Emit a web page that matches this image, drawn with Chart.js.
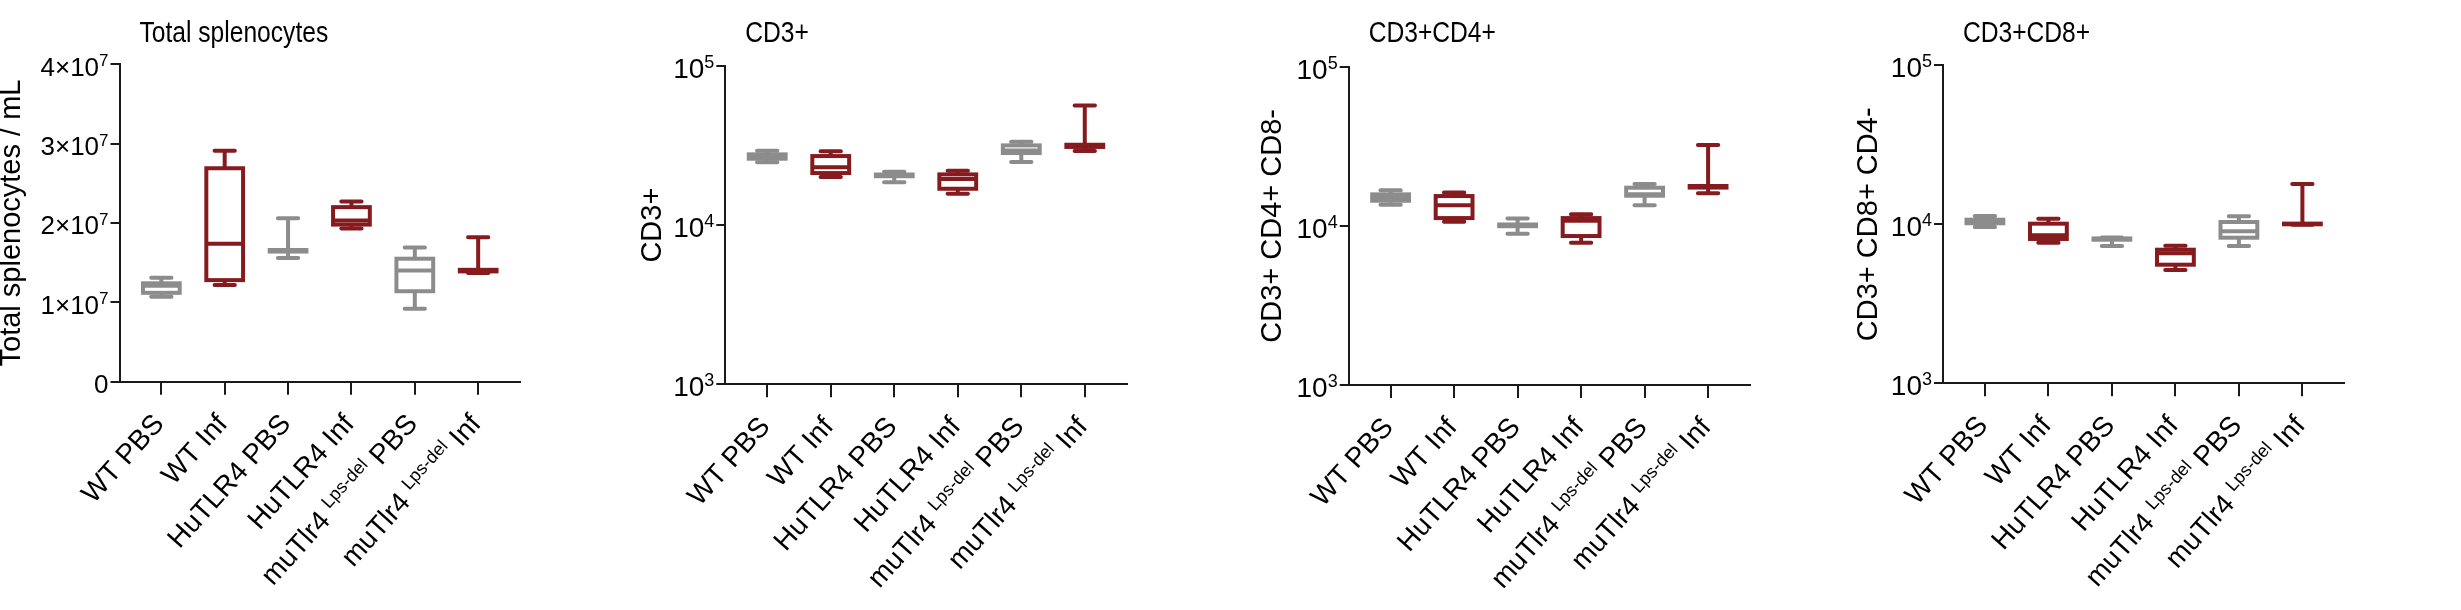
<!DOCTYPE html>
<html>
<head>
<meta charset="utf-8">
<title>Splenocyte counts</title>
<script src="https://cdn.jsdelivr.net/npm/chart.js@4.4.1/dist/chart.umd.min.js"></script>
<style>
  html, body { margin: 0; padding: 0; background: #fff; }
  body { position: relative; width: 2461px; height: 610px; overflow: hidden; }
  canvas { position: absolute; top: 0; }
</style>
</head>
<body>
<canvas id="c0"></canvas>
<canvas id="c1"></canvas>
<canvas id="c2"></canvas>
<canvas id="c3"></canvas>
<script>
// groups on the x axis (same for all four panels)
const groups = ['WT PBS', 'WT Inf', 'HuTLR4 PBS', 'HuTLR4 Inf', 'muTlr4 PBS', 'muTlr4 Inf'];
// label pieces: the middle piece is set as a superscript
const labelBase = ['WT PBS', 'WT Inf', 'HuTLR4 PBS', 'HuTLR4 Inf', 'muTlr4 ', 'muTlr4 '];
const labelSup = ['', '', '', '', 'Lps-del', 'Lps-del'];
const labelTail = ['', '', '', '', ' PBS', ' Inf'];

// Total splenocytes / mL
const splenoMin = [1.07e7, 1.22e7, 1.56e7, 1.93e7, 0.92e7, 1.37e7];
const splenoQ1  = [1.12e7, 1.28e7, 1.64e7, 1.98e7, 1.14e7, 1.39e7];
const splenoMed = [1.21e7, 1.74e7, 1.65e7, 2.03e7, 1.40e7, 1.40e7];
const splenoQ3  = [1.24e7, 2.69e7, 1.66e7, 2.20e7, 1.55e7, 1.41e7];
const splenoMax = [1.31e7, 2.91e7, 2.06e7, 2.27e7, 1.69e7, 1.82e7];

// CD3+
const cd3Min = [24800, 20050, 18570, 15750, 24910, 29210];
const cd3Q1  = [26140, 21250, 20300, 16930, 28380, 31000];
const cd3Med = [26980, 23070, 20550, 19480, 29500, 31500];
const cd3Q3  = [27850, 27170, 20800, 20840, 31710, 32000];
const cd3Max = [29330, 29080, 21640, 21960, 33410, 56560];

// CD3+ CD4+ CD8-
const cd4Min = [13570, 10610, 8925, 7830, 13450, 16000];
const cd4Q1  = [14380, 11190, 9950, 8630, 15460, 17400];
const cd4Med = [15020, 13450, 10070, 10770, 15770, 17610];
const cd4Q3  = [15770, 15390, 10200, 11190, 17360, 17800];
const cd4Max = [16710, 16230, 11140, 11810, 18310, 32180];

// CD3+ CD8+ CD4-
const cd8Min = [9620, 7660, 7300, 5160, 7300, 9950];
const cd8Q1  = [10150, 8085, 8000, 5570, 8236, 10000];
const cd8Med = [10380, 8530, 8080, 6570, 9036, 10050];
const cd8Q3  = [10690, 10090, 8150, 6922, 10340, 10100];
const cd8Max = [11280, 10840, 8250, 7335, 11230, 17930];

// y ticks (label = base + superscript)
const linTicks = [0, 1e7, 2e7, 3e7, 4e7];
const linTickBase = ['0', '1×10', '2×10', '3×10', '4×10'];
const linTickSup = ['', '7', '7', '7', '7'];
const logTicks = [1e3, 1e4, 1e5];
const logTickBase = ['10', '10', '10'];
const logTickSup = ['3', '4', '5'];

const GREY = '#8c8c8c';
const RED = '#861b1f';
const AXIS = '#1a1a1a';
const SANS = "'Liberation Sans', Arial, Helvetica, sans-serif";

const panels = [
  { title: 'Total splenocytes', yTitle: 'Total splenocytes / mL', log: false,
    min: splenoMin, q1: splenoQ1, med: splenoMed, q3: splenoQ3, max: splenoMax },
  { title: 'CD3+', yTitle: 'CD3+', log: true,
    min: cd3Min, q1: cd3Q1, med: cd3Med, q3: cd3Q3, max: cd3Max },
  { title: 'CD3+CD4+', yTitle: 'CD3+ CD4+ CD8-', log: true,
    min: cd4Min, q1: cd4Q1, med: cd4Med, q3: cd4Q3, max: cd4Max },
  { title: 'CD3+CD8+', yTitle: 'CD3+ CD8+ CD4-', log: true,
    min: cd8Min, q1: cd8Q1, med: cd8Med, q3: cd8Q3, max: cd8Max }
];

// where each panel sits on the page
const frames = [
  { left: -3, width: 620, axisX: 119.5, axisEnd: 520, top: 64.3, bottom: 381.7 },
  { left: 638, width: 620, axisX: 725.3, axisEnd: 1126.7, top: 66, bottom: 384.3 },
  { left: 1258, width: 596, axisX: 1348.7, axisEnd: 1750, top: 66.7, bottom: 385 },
  { left: 1854, width: 607, axisX: 1943, axisEnd: 2344.3, top: 65.3, bottom: 383.3 }
];

// text right-aligned at (x, y) on its baseline, with an optional raised part
function drawRich(ctx, x, y, base, sup, tail, size, angle) {
  const mainFont = size + 'px ' + SANS;
  const supFont = Math.round(size * 0.64) + 'px ' + SANS;
  ctx.save();
  ctx.translate(x, y);
  ctx.rotate(angle);
  ctx.textAlign = 'left';
  ctx.textBaseline = 'alphabetic';
  ctx.font = mainFont;
  const wb = ctx.measureText(base).width;
  const wt = ctx.measureText(tail).width;
  ctx.font = supFont;
  const ws = ctx.measureText(sup).width;
  let cur = -(wb + ws + wt);
  ctx.font = mainFont;
  ctx.fillText(base, cur, 0);
  cur += wb;
  if (sup) {
    ctx.font = supFont;
    ctx.fillText(sup, cur, -size * 0.36);
    cur += ws;
  }
  if (tail) {
    ctx.font = mainFont;
    ctx.fillText(tail, cur, 0);
  }
  ctx.restore();
}

// box and whiskers, drawn through the chart's own scales
const boxPlugin = {
  id: 'boxWhisker',
  afterDatasetsDraw(chart, args, opts) {
    const { ctx, scales: { x, y } } = chart;
    const p = opts.panel;
    ctx.save();
    ctx.lineWidth = 4;
    groups.forEach((g, i) => {
      const color = i % 2 ? RED : GREY;
      const cx = x.getPixelForValue(i);
      const hw = x.getPixelForValue(i + 0.29) - cx;
      const cw = x.getPixelForValue(i + 0.16) - cx;
      const yMin = y.getPixelForValue(p.min[i]);
      const yQ1 = y.getPixelForValue(p.q1[i]);
      const yMed = y.getPixelForValue(p.med[i]);
      const yQ3 = y.getPixelForValue(p.q3[i]);
      const yMax = y.getPixelForValue(p.max[i]);
      ctx.strokeStyle = color;
      ctx.lineCap = 'round';
      ctx.beginPath();
      ctx.moveTo(cx, yQ3); ctx.lineTo(cx, yMax);
      ctx.moveTo(cx, yQ1); ctx.lineTo(cx, yMin);
      ctx.moveTo(cx - cw, yMax); ctx.lineTo(cx + cw, yMax);
      ctx.moveTo(cx - cw, yMin); ctx.lineTo(cx + cw, yMin);
      ctx.stroke();
      ctx.lineCap = 'butt';
      ctx.lineJoin = 'miter';
      ctx.fillStyle = '#fff';
      ctx.fillRect(cx - hw, yQ3, 2 * hw, yQ1 - yQ3);
      ctx.strokeRect(cx - hw, yQ3, 2 * hw, yQ1 - yQ3);
      ctx.beginPath();
      ctx.moveTo(cx - hw, yMed); ctx.lineTo(cx + hw, yMed);
      ctx.stroke();
    });
    ctx.restore();
  }
};

// panel title, y tick labels and slanted group labels (all with superscripts)
const textPlugin = {
  id: 'panelText',
  afterDraw(chart, args, opts) {
    const { ctx, chartArea, scales: { x, y } } = chart;
    ctx.save();
    ctx.fillStyle = '#000';
    ctx.font = '30px ' + SANS;
    ctx.textAlign = 'left';
    ctx.textBaseline = 'alphabetic';
    ctx.translate(chartArea.left + 20, 42);
    ctx.scale(0.82, 1);
    ctx.fillText(opts.title, 0, 0);
    ctx.restore();

    ctx.save();
    ctx.fillStyle = '#000';
    opts.tickValues.forEach((v, j) => {
      const py = y.getPixelForValue(v);
      drawRich(ctx, chartArea.left - 11, py + 0.36 * opts.tickSize + 2,
        opts.tickBase[j], opts.tickSup[j], '', opts.tickSize, 0);
    });
    groups.forEach((g, i) => {
      drawRich(ctx, x.getPixelForValue(i) + 4, chartArea.bottom + 43,
        labelBase[i], labelSup[i], labelTail[i], 28, -48 * Math.PI / 180);
    });
    ctx.restore();
  }
};

panels.forEach((p, k) => {
  const f = frames[k];
  const canvas = document.getElementById('c' + k);
  canvas.width = f.width;
  canvas.height = 610;
  canvas.style.left = f.left + 'px';
  canvas.style.width = f.width + 'px';
  canvas.style.height = '610px';

  const tickValues = p.log ? logTicks : linTicks;

  new Chart(canvas, {
    type: 'scatter',
    data: {
      datasets: [{
        label: p.title,
        data: groups.map((g, i) => ({ x: i, y: p.med[i] })),
        pointRadius: 0,
        pointHoverRadius: 0
      }]
    },
    plugins: [boxPlugin, textPlugin],
    options: {
      responsive: false,
      animation: false,
      layout: { padding: { top: f.top, right: f.left + f.width - f.axisEnd, bottom: 0, left: 0 } },
      plugins: {
        legend: { display: false },
        tooltip: { enabled: false },
        boxWhisker: { panel: p },
        panelText: {
          title: p.title,
          tickValues: tickValues,
          tickBase: p.log ? logTickBase : linTickBase,
          tickSup: p.log ? logTickSup : linTickSup,
          tickSize: p.log ? 28 : 26
        }
      },
      scales: {
        x: {
          type: 'linear',
          min: -0.66,
          max: 5.66,
          afterBuildTicks: s => { s.ticks = groups.map((g, i) => ({ value: i })); },
          afterFit: s => { s.height = 610 - f.bottom; },
          ticks: { display: false, autoSkip: false },
          grid: { drawOnChartArea: false, drawTicks: true, tickLength: 13, color: AXIS, lineWidth: 2 },
          border: { display: true, color: AXIS, width: 2 }
        },
        y: {
          type: p.log ? 'logarithmic' : 'linear',
          min: tickValues[0],
          max: tickValues[tickValues.length - 1],
          afterBuildTicks: s => { s.ticks = tickValues.map(v => ({ value: v })); },
          afterFit: s => { s.width = f.axisX - f.left; },
          ticks: { display: false, autoSkip: false },
          grid: { drawOnChartArea: false, drawTicks: true, tickLength: 9, color: AXIS, lineWidth: 2 },
          border: { display: true, color: AXIS, width: 2 },
          title: {
            display: true,
            text: p.yTitle,
            color: '#000',
            font: { family: SANS, size: 29, lineHeight: 1 },
            padding: { top: 0, bottom: 0 }
          }
        }
      }
    }
  });
});
</script>
</body>
</html>
